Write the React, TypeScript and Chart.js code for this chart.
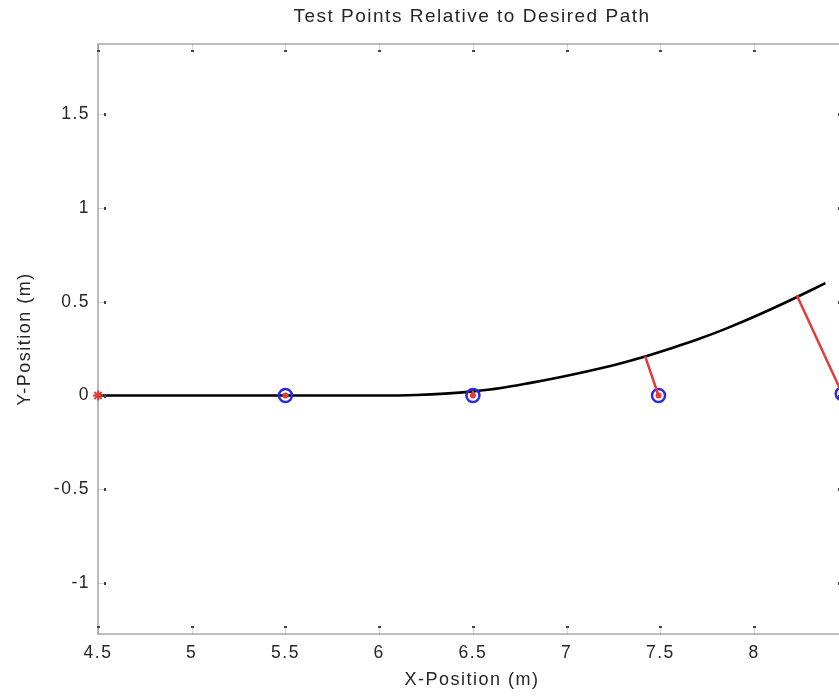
import React, { useEffect, useRef } from 'react';
import { Chart, registerables } from 'chart.js';

Chart.register(...registerables);

// Desired path (black curve)
const pathX = [4.5, 5.0, 5.5, 6.0, 6.2, 6.35, 6.5, 6.65, 6.8, 6.95, 7.1, 7.25, 7.4, 7.55, 7.7, 7.85, 8.0, 8.15, 8.3, 8.38];
const pathY = [0, 0, 0, 0, 0.003, 0.01, 0.022, 0.04, 0.066, 0.095, 0.127, 0.162, 0.203, 0.25, 0.3, 0.357, 0.42, 0.488, 0.56, 0.6];

// Test points (blue circles)
const testX = [5.5, 6.5, 7.49, 8.47];
const testY = [0, 0, 0, 0.01];

// Nearest points on the path (ends of the red error lines)
const nearX = [5.5, 6.5, 7.42, 8.23];
const nearY = [0, 0.02, 0.205, 0.53];

// Start marker
const startX = [4.5];
const startY = [0];

const chartTitle = 'Test Points Relative to Desired Path';
const xTitle = 'X-Position (m)';
const yTitle = 'Y-Position (m)';

const xMin = 4.5;
const xMax = 8.49;
const yMin = -1.272;
const yMax = 1.875;
const tickStep = 0.5;

const FONT = "'Liberation Sans', Arial, Helvetica, sans-serif";
const TEXT_COLOR = '#262626';
const AXIS_COLOR = '#bdbdbd';
const BLUE = '#2b2bdc';
const RED = '#e23c3c';
const SPACING = '1.5px';

const framePlugin = {
  id: 'frame',
  beforeUpdate(chart: any) {
    chart.ctx.letterSpacing = SPACING;
  },
  beforeDraw(chart: any) {
    chart.ctx.letterSpacing = SPACING;
  },
  afterDraw(chart: any) {
    const { ctx, chartArea } = chart;
    const { left, right, top, bottom } = chartArea;
    const xs = chart.scales.x;
    const ys = chart.scales.y;
    ctx.save();
    ctx.strokeStyle = AXIS_COLOR;
    ctx.lineWidth = 2;
    ctx.beginPath();
    ctx.moveTo(left - 1, top);
    ctx.lineTo(right, top);
    ctx.lineTo(right, bottom);
    ctx.stroke();
    const len = 8;
    ctx.lineWidth = 1;
    ctx.strokeStyle = 'rgba(0,0,0,0.15)';
    ctx.fillStyle = '#444';
    xs.ticks.forEach((t: any) => {
      const px = Math.round(xs.getPixelForValue(t.value));
      ctx.beginPath();
      ctx.moveTo(px + 0.5, top);
      ctx.lineTo(px + 0.5, top + len);
      ctx.moveTo(px + 0.5, bottom);
      ctx.lineTo(px + 0.5, bottom - len);
      ctx.stroke();
      ctx.fillRect(px - 1, top + len - 2, 3, 2);
      ctx.fillRect(px - 1, bottom - len, 3, 2);
    });
    ys.ticks.forEach((t: any) => {
      const py = Math.round(ys.getPixelForValue(t.value));
      ctx.beginPath();
      ctx.moveTo(left, py + 0.5);
      ctx.lineTo(left + len, py + 0.5);
      ctx.moveTo(right, py + 0.5);
      ctx.lineTo(right - len, py + 0.5);
      ctx.stroke();
      ctx.fillRect(left + len - 2, py - 1, 2, 3);
      ctx.fillRect(right - len, py - 1, 2, 3);
    });
    ctx.restore();
  },
};

function fmt(v: number) {
  return String(Number(v.toFixed(2)));
}

export default function App() {
  const ref = useRef<HTMLCanvasElement | null>(null);

  useEffect(() => {
    if (!ref.current) return;

    const pathData = pathX.map((x, i) => ({ x, y: pathY[i] }));
    const testData = testX.map((x, i) => ({ x, y: testY[i] }));
    const startData = startX.map((x, i) => ({ x, y: startY[i] }));

    const segmentSets = testX.map((x, i) => ({
      label: 'error ' + (i + 1),
      data: [
        { x, y: testY[i] },
        { x: nearX[i], y: nearY[i] },
      ],
      showLine: true,
      borderColor: RED,
      borderWidth: 2.5,
      borderCapStyle: 'round',
      pointRadius: 0,
      fill: false,
      order: 3,
      clip: false as any,
    }));

    const chart = new Chart(ref.current, {
      type: 'scatter',
      data: {
        datasets: [
          {
            label: 'Desired path',
            data: pathData,
            showLine: true,
            borderColor: '#000000',
            borderWidth: 2.6,
            cubicInterpolationMode: 'monotone',
            pointRadius: 0,
            fill: false,
            order: 5,
          },
          {
            label: 'Test points',
            data: testData,
            pointStyle: 'circle',
            pointRadius: 6.5,
            pointBorderWidth: 2.5,
            borderColor: BLUE,
            pointBorderColor: BLUE,
            backgroundColor: 'rgba(0,0,0,0)',
            pointBackgroundColor: 'rgba(0,0,0,0)',
            order: 4,
            clip: false as any,
          },
          ...segmentSets,
          {
            label: 'Test point centres',
            data: testData,
            pointStyle: 'circle',
            pointRadius: 3,
            pointBorderWidth: 0,
            pointBackgroundColor: RED,
            backgroundColor: RED,
            borderColor: RED,
            order: 2,
            clip: false as any,
          },
          {
            label: 'Start',
            data: startData,
            pointStyle: 'star',
            pointRadius: 5,
            pointBorderWidth: 2,
            pointBorderColor: RED,
            borderColor: RED,
            backgroundColor: RED,
            order: 1,
            clip: false as any,
          },
        ] as any,
      },
      options: {
        animation: false,
        responsive: false,
        devicePixelRatio: 1,
        layout: { padding: { left: 0, right: 24, top: 0, bottom: 0 } },
        plugins: {
          legend: { display: false },
          tooltip: { enabled: false },
          title: {
            display: true,
            text: chartTitle,
            fullSize: false,
            color: TEXT_COLOR,
            font: { family: FONT, size: 19, weight: 'normal' },
            padding: { top: 5, bottom: 16.2 },
          },
        },
        scales: {
          x: {
            type: 'linear',
            min: xMin,
            max: xMax,
            grid: { display: false, drawTicks: false },
            border: { display: true, color: AXIS_COLOR, width: 2 },
            ticks: {
              stepSize: tickStep,
              includeBounds: false,
              color: TEXT_COLOR,
              padding: 9,
              font: { family: FONT, size: 17.5 },
              callback: (v: any) => fmt(Number(v)),
            },
            title: {
              display: true,
              text: xTitle,
              color: TEXT_COLOR,
              font: { family: FONT, size: 18 },
              padding: { top: 4, bottom: 5 },
            },
            afterFit: (scale: any) => {
              scale.height = 62;
            },
          },
          y: {
            type: 'linear',
            min: yMin,
            max: yMax,
            grid: { display: false, drawTicks: false },
            border: { display: true, color: AXIS_COLOR, width: 2 },
            ticks: {
              stepSize: tickStep,
              includeBounds: false,
              color: TEXT_COLOR,
              padding: 8,
              font: { family: FONT, size: 17.5 },
              callback: (v: any) => fmt(Number(v)),
            },
            title: {
              display: true,
              text: yTitle,
              color: TEXT_COLOR,
              font: { family: FONT, size: 18 },
              padding: { top: 14, bottom: 4 },
            },
            afterFit: (scale: any) => {
              scale.width = 98;
            },
          },
        },
      } as any,
      plugins: [framePlugin],
    });

    return () => {
      chart.destroy();
    };
  }, []);

  return (
    <div
      style={{
        position: 'absolute',
        left: 0,
        top: 0,
        width: 839,
        height: 696,
        overflow: 'hidden',
        background: '#ffffff',
      }}
    >
      <canvas ref={ref} width={870} height={696} style={{ display: 'block', width: 870, height: 696 }} />
    </div>
  );
}
